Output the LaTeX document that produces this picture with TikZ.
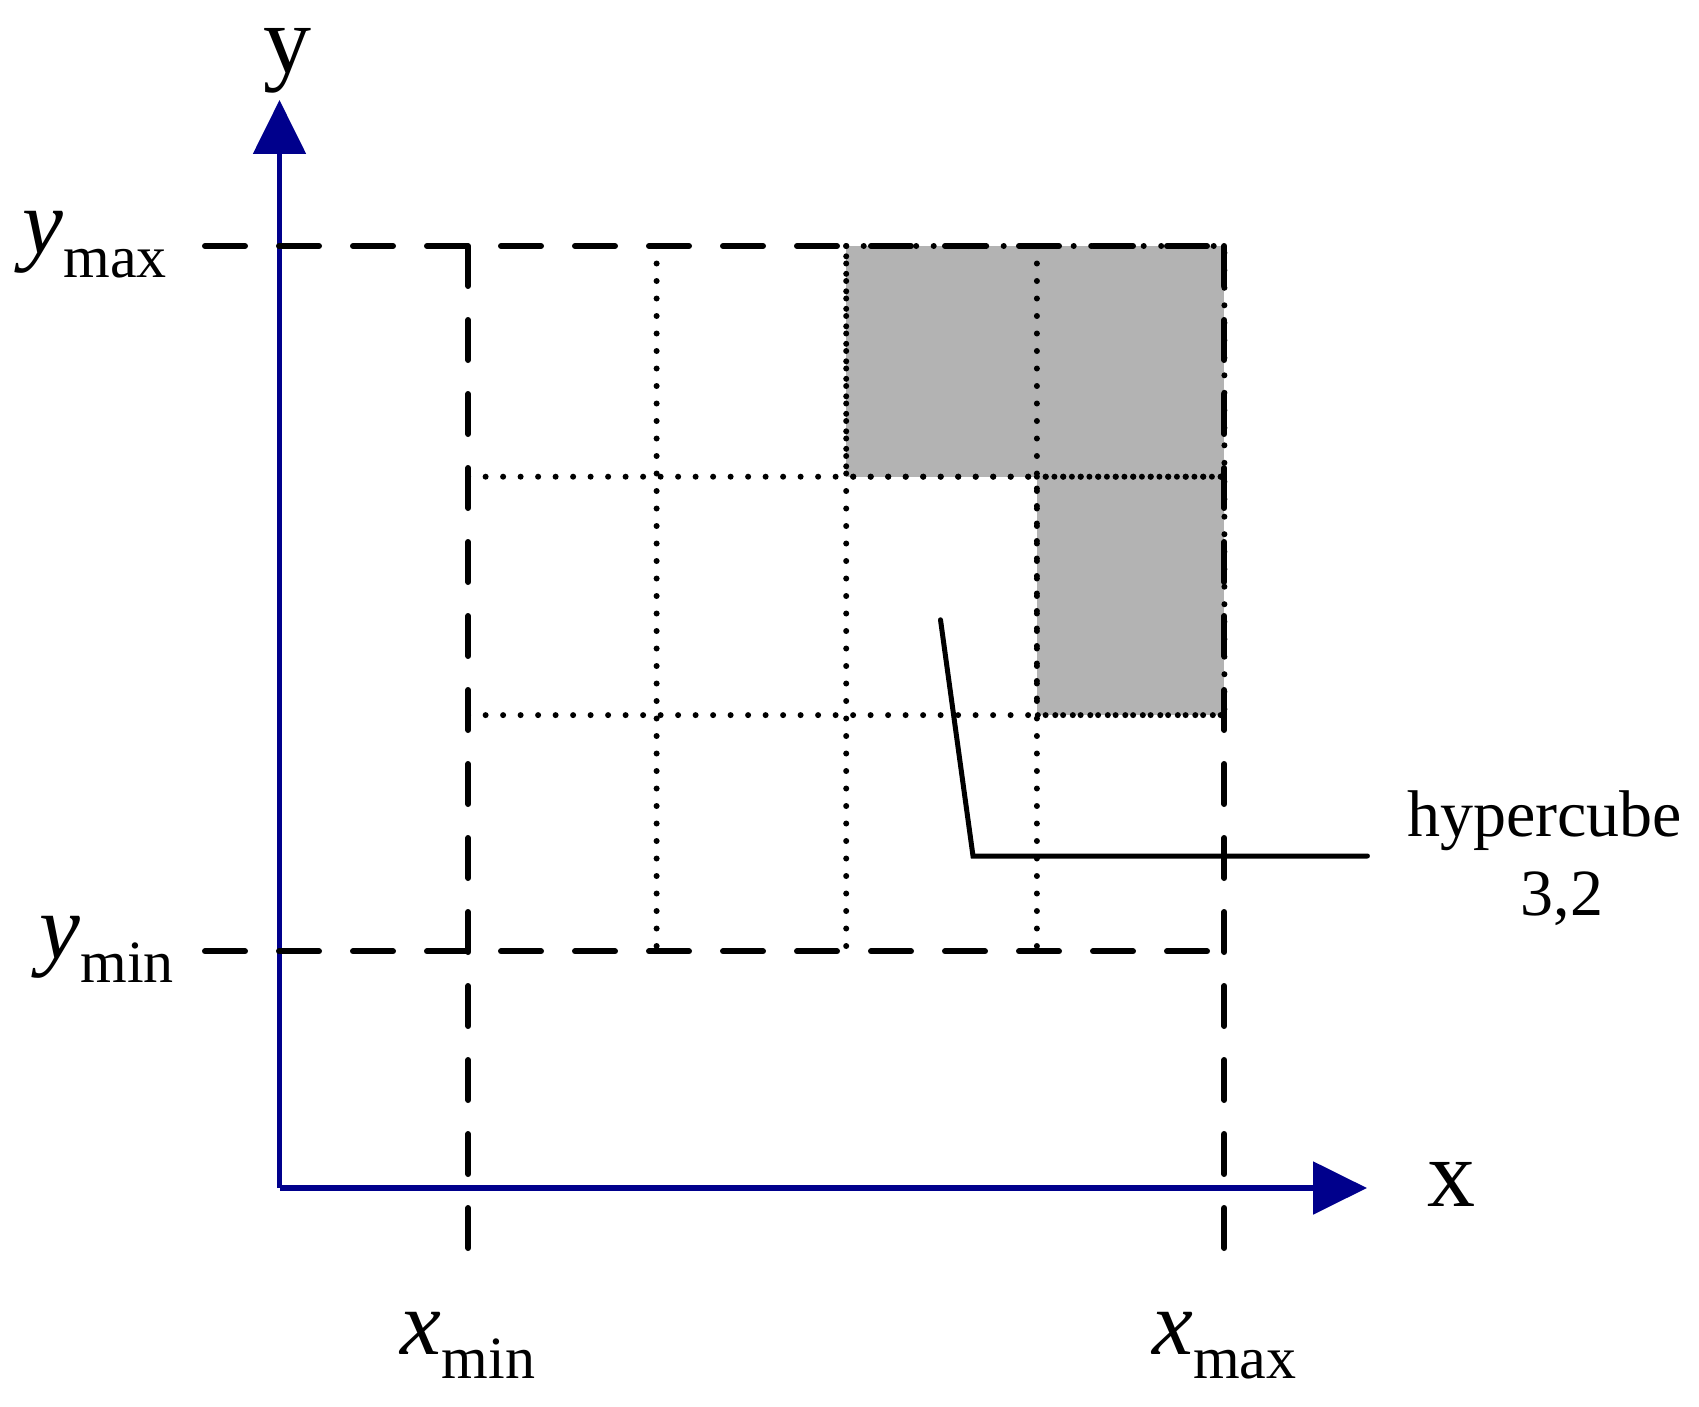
\documentclass[tikz,border=0pt]{standalone}
\usepackage{fontspec}
\setmainfont{Liberation Serif}
\usetikzlibrary{arrows.meta}
\definecolor{axisblue}{RGB}{0,0,140}
\definecolor{cellgray}{RGB}{179,179,179}
\newcommand\subl[2]{\textit{#1}\raisebox{-24pt}{\fontsize{60}{60}\selectfont #2}}
\begin{document}
\begin{tikzpicture}[x=1pt,y=-1pt,
  axisline/.style={draw=axisblue, line width=5.5pt, -{Triangle[length=54pt,width=52pt]}},
  dashline/.style={draw=black, line width=6pt, line cap=round, dash pattern=on 40pt off 34pt},
  dotline/.style={draw=black, line width=6pt, line cap=round, dash pattern=on 0pt off 17.5pt},
  leader/.style={draw=black, line width=5pt, line cap=round, line join=miter},
  lbl/.style={inner sep=0pt, font=\fontsize{92}{100}\selectfont},
  hclbl/.style={inner sep=0pt, font=\fontsize{66}{79}\selectfont},
]
\useasboundingbox (0,0) rectangle (1699,1407);

% grid coordinates
\coordinate (a0) at (468.1,246);   \coordinate (a1) at (656.6,246);
\coordinate (a2) at (846.2,246);   \coordinate (a3) at (1036.9,246);
\coordinate (a4) at (1224.4,246);
\coordinate (b0) at (468.1,476.7); \coordinate (b2) at (846.2,476.7);
\coordinate (b3) at (1036.9,476.7);\coordinate (b4) at (1224.4,476.7);
\coordinate (c0) at (468.1,715.1); \coordinate (c3) at (1036.9,715.1);
\coordinate (c4) at (1224.4,715.1);
\coordinate (d0) at (468.1,951.3); \coordinate (d1) at (656.6,951.3);
\coordinate (d2) at (846.2,951.3); \coordinate (d3) at (1036.9,951.3);
\coordinate (d4) at (1224.4,951.3);
\coordinate (ymaxs) at (205,246);  \coordinate (ymins) at (205,951.3);
\coordinate (xmine) at (468.1,1259); \coordinate (xmaxe) at (1224.4,1259);
\coordinate (O) at (279.5,1188);
\coordinate (Ytip) at (279.5,100);
\coordinate (Xtip) at (1367,1188);
\coordinate (L1) at (940.5,619.8);
\coordinate (L2) at (973,856);
\coordinate (L3) at (1367.4,856);

% gray cells
\fill[cellgray] (a2) rectangle (b4);
\fill[cellgray] (b3) rectangle (c4);

% dotted grid
\draw[dotline] (a1) -- (d1);
\draw[dotline] (a2) -- (d2);
\draw[dotline] (a3) -- (d3);
\draw[dotline] (b0) -- (b4);
\draw[dotline] (c0) -- (c4);
% dotted borders of gray cells
\draw[dotline] (a2) -- (a4) -- (b4) -- (b2) -- cycle;
\draw[dotline] (b3) -- (b4) -- (c4) -- (c3) -- cycle;

% axes
\draw[axisline] (O) -- (Ytip);
\draw[axisline] (O) -- (Xtip);

% dashed bounds
\draw[dashline] (ymaxs) -- (a4);
\draw[dashline] (ymins) -- (d4);
\draw[dashline] (a0) -- (xmine);
\draw[dashline] (a4) -- (xmaxe);

% leader
\draw[leader] (L1) -- (L2) -- (L3);

% labels
\node[lbl, font=\fontsize{96}{100}\selectfont, anchor=base] (ylab) at (287,73) {y};
\node[lbl, font=\fontsize{96}{100}\selectfont, anchor=base] (xlab) at (1451,1206) {x};
\node[lbl, anchor=base east] (ymaxl) at (167,253) {\subl{y}{max}};
\node[lbl, anchor=base east] (yminl) at (174,958) {\subl{y}{min}};
\node[lbl, anchor=base] (xminl) at (468,1354) {\subl{x}{min}};
\node[lbl, anchor=base] (xmaxl) at (1224.4,1354) {\subl{x}{max}};
\node[hclbl, anchor=base] (hc) at (1544.5,836.5) {hypercube};
\node[hclbl, anchor=base] (hcnum) at (1562,915.6) {3,2};
\end{tikzpicture}
\end{document}
